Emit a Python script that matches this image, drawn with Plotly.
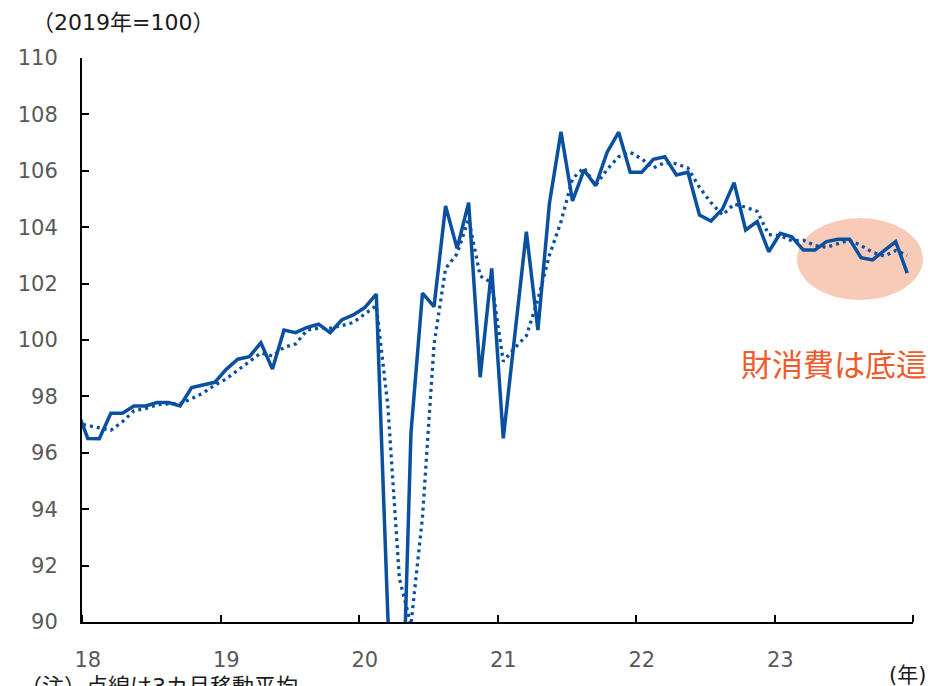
import plotly.graph_objects as go

# Monthly index, 2017-12 .. 2023-12 (2019 = 100)
months = ["2017-12"] + [f"{y}-{m:02d}" for y in range(2018, 2024) for m in range(1, 13)]

goods_consumption = [
    97.6,
    96.51, 96.5, 97.40, 97.40, 97.66, 97.66, 97.78, 97.78, 97.66, 98.31, 98.40, 98.50,
    98.96, 99.32, 99.41, 99.90, 98.97, 100.35, 100.26, 100.45, 100.56, 100.26, 100.71, 100.89,
    101.15, 101.63, 90.2, 82.8, 96.69, 101.66, 101.18, 104.75, 103.25, 104.87, 98.68, 102.54,
    96.51, 100.1, 103.84, 100.35, 104.85, 107.38, 104.93, 106.03, 105.47, 106.66, 107.37, 105.95,
    105.95, 106.41, 106.50, 105.85, 105.95, 104.43, 104.22, 104.65, 105.58, 103.90, 104.20, 103.13,
    103.78, 103.66, 103.19, 103.19, 103.49, 103.57, 103.57, 102.92, 102.84, 103.17, 103.49, 102.37,
]

moving_avg_3m = [
    97.05,
    96.97, 96.87, 96.80, 97.10, 97.49, 97.57, 97.70, 97.74, 97.74, 97.92, 98.12, 98.40,
    98.62, 98.93, 99.23, 99.54, 99.43, 99.74, 99.86, 100.35, 100.42, 100.42, 100.51, 100.62,
    100.92, 101.22, 97.66, 91.54, 89.90, 93.72, 99.84, 102.53, 103.06, 104.29, 102.27, 102.03,
    99.24, 99.72, 100.15, 101.43, 103.01, 104.19, 105.72, 106.11, 105.48, 106.05, 106.50, 106.66,
    106.42, 106.10, 106.29, 106.25, 106.10, 105.41, 104.87, 104.43, 104.82, 104.71, 104.56, 103.74,
    103.70, 103.52, 103.54, 103.35, 103.29, 103.42, 103.54, 103.35, 103.11, 102.98, 103.17, 103.01,
]

year_labels = ["18", "19", "20", "21", "22", "23"]
y_ticks = [90, 92, 94, 96, 98, 100, 102, 104, 106, 108, 110]

# months plotted at mid-month positions; Jan 2018 starts at 0
xpos = [i - 1 + 0.5 for i in range(len(months))]
label_pos = [12 * k + 0.5 for k in range(len(year_labels))]
year_bounds = [12 * k for k in range(len(year_labels) + 1)]

BLUE = "#0A50A1"
GRAY = "#595959"
FONT = "DejaVu Sans, Noto Sans CJK JP, sans-serif"

fig = go.Figure()
fig.add_trace(go.Scatter(
    x=xpos, y=moving_avg_3m, mode="lines", customdata=months,
    line=dict(color=BLUE, width=3.3, dash="3px,4px"),
    showlegend=False,
))
fig.add_trace(go.Scatter(
    x=xpos, y=goods_consumption, mode="lines", customdata=months,
    line=dict(color=BLUE, width=3.5),
    showlegend=False,
))

fig.add_shape(type="circle", xref="paper", yref="paper",
              x0=0.8604, x1=1.012, y0=0.5709, y1=0.7163,
              fillcolor="#F8CBB8", line=dict(width=0), layer="below")

fig.update_layout(
    width=928, height=686,
    margin=dict(l=82, r=15, t=58, b=64),
    paper_bgcolor="white", plot_bgcolor="white",
    font=dict(family=FONT, color=GRAY),
    xaxis=dict(
        range=[0, 72], showgrid=False, zeroline=False,
        showline=True, linecolor="black", linewidth=2,
        tickmode="array", tickvals=label_pos, ticktext=year_labels,
        ticks="", tickfont=dict(size=21, color=GRAY),
        ticklabelstandoff=18,
        minor=dict(tickmode="array", tickvals=year_bounds, ticks="inside",
                   ticklen=7, tickwidth=2, tickcolor="black", showgrid=False),
    ),
    yaxis=dict(
        range=[90, 110], showgrid=False, zeroline=False,
        showline=True, linecolor="black", linewidth=2,
        tickmode="array", tickvals=y_ticks,
        ticks="inside", ticklen=7, tickwidth=2, tickcolor="black",
        tickfont=dict(size=21, color=GRAY),
        ticklabelstandoff=18,
    ),
    annotations=[
        dict(text="（2019年=100）", xref="paper", yref="paper",
             x=(30 - 82) / 831, y=(622 - 22) / 564, xanchor="left", yanchor="middle",
             showarrow=False, font=dict(size=22, color="#1a1a1a")),
        dict(text="(年)", xref="paper", yref="paper",
             x=1.0185, y=(622 - 675) / 564, xanchor="right", yanchor="middle",
             showarrow=False, font=dict(size=21, color="#1a1a1a")),
        dict(text="（注）点線は3カ月移動平均", xref="paper", yref="paper",
             x=(18 - 82) / 831, y=(622 - 686) / 564, xanchor="left", yanchor="middle",
             showarrow=False, font=dict(size=22, color="#1a1a1a")),
        dict(text="財消費は底這", xref="paper", yref="paper",
             x=(834 - 82) / 831, y=(622 - 365) / 564, xanchor="center", yanchor="middle",
             showarrow=False, font=dict(size=31, color="#EF5B2B")),
    ],
)

fig.write_html("out.html")
